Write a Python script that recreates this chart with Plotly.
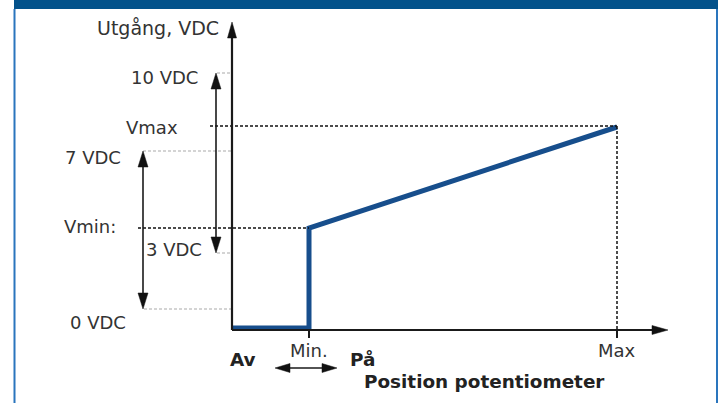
import plotly.graph_objects as go

# ---------------- data ----------------
x_tick_labels = ["Min.", "Max"]
x_tick_pos = [1, 5]                      # potentiometer positions
y_tick_labels = ["0 VDC", "3 VDC", "7 VDC", "10 VDC"]
y_tick_levels = [2.1, 7.7, 17.9, 25.7]   # schematic output levels
vmin_level = 10.2
vmax_level = 20.4
curve_x = [0, 1, 1, 5]
curve_y = [0.2, 0.2, 10.2, 20.3]
off_label, on_label = "Av", "På"
x_title = "Position potentiometer"
y_title = "Utgång, VDC"

# ---------------- geometry helpers ----------------
W, H = 724, 403
X0, Y0 = 232, 330      # pixel of origin
SX, SY = 77.0, 10.0    # pixels per unit


def X(p):
    return (p - X0) / SX


def Y(p):
    return (Y0 - p) / SY


def PX(x):
    return X0 + SX * x


def PY(y):
    return Y0 - SY * y


FONT = "DejaVu Sans"
TXT = "#333333"
BLUE = "#174e8c"

shapes = []
annotations = []


def line(x0, y0, x1, y1, color="#1a1a1a", width=2, dash=None):
    d = dict(type="line", xref="x", yref="y", x0=x0, y0=y0, x1=x1, y1=y1,
             line=dict(color=color, width=width))
    if dash:
        d["line"]["dash"] = dash
    shapes.append(d)


def head(tipx, tipy, dirx, diry, length=15, width=9, color="#111111"):
    tx, ty = PX(tipx), PY(tipy)
    bx, by = tx - dirx * length, ty - diry * length
    nx, ny = -diry, dirx
    pts = [(tx, ty), (bx + nx * width / 2, by + ny * width / 2),
           (bx - nx * width / 2, by - ny * width / 2)]
    path = "M " + " L ".join(f"{X(a):.4f},{Y(b):.4f}" for a, b in pts) + " Z"
    shapes.append(dict(type="path", xref="x", yref="y", path=path,
                       fillcolor=color, line=dict(color=color, width=0.5)))


def text(x, y, s, xanchor="center", bold=False, size=18, color=TXT):
    annotations.append(dict(x=x, y=y, xref="x", yref="y", text=(f"<b>{s}</b>" if bold else s),
                            showarrow=False, xanchor=xanchor, yanchor="middle",
                            font=dict(family=FONT, size=size, color=color)))


# frame
shapes.append(dict(type="rect", xref="paper", yref="paper", x0=14 / W, x1=718 / W,
                   y0=1 - 9 / H, y1=1.02, fillcolor="#03528b", line=dict(width=0)))
for xp in (14.5, 717):
    shapes.append(dict(type="line", xref="paper", yref="paper", x0=xp / W, x1=xp / W,
                       y0=-0.01, y1=1 - 9 / H, line=dict(color="#2a75bd", width=2)))

# grey guide lines to the y axis
guide_start = {"0 VDC": X(144), "3 VDC": X(217), "7 VDC": X(143), "10 VDC": X(217)}
for lab, lev in zip(y_tick_labels, y_tick_levels):
    line(guide_start[lab], lev, 0, lev, color="#aaaaaa", width=1.2, dash="3px,2px")

# black dashed Vmin / Vmax helpers
line(X(210), vmax_level, x_tick_pos[1], vmax_level, color="#111111", width=1.5, dash="3px,2px")
line(x_tick_pos[1], vmax_level, x_tick_pos[1], 0, color="#111111", width=1.5, dash="3px,2px")
line(X(138), vmin_level, x_tick_pos[0], vmin_level, color="#111111", width=1.5, dash="3px,2px")

# axes
y_tip = Y(22)
x_tip = X(668)
line(0, 0, 0, y_tip - 1.2, width=2.2)
head(0, y_tip, 0, -1, length=16, width=9)
line(0, 0, x_tip - 14 / SX, 0, width=2.2)
head(x_tip, 0, 1, 0, length=16, width=9)
for xt in x_tick_pos:
    line(xt, 0, xt, Y(338), width=2)

# double arrows for ranges (10 VDC <-> 3 VDC, 7 VDC <-> 0 VDC)
for xpix, top, bot in ((216, y_tick_levels[3], y_tick_levels[1]),
                       (143, y_tick_levels[2], y_tick_levels[0])):
    xa = X(xpix)
    line(xa, top - 1.2, xa, bot + 1.2, width=1.6)
    head(xa, top, 0, -1, length=16, width=10)
    head(xa, bot, 0, 1, length=16, width=10)

# horizontal double arrow under Min.
ya = Y(368)
line(X(284), ya, X(328), ya, width=1.6)
head(X(275), ya, -1, 0, length=15, width=9)
head(X(337), ya, 1, 0, length=15, width=9)

# labels
text(X(221), Y(28), y_title, xanchor="right", size=19)
text(X(200), Y(77), y_tick_labels[3], xanchor="right")
text(X(180), Y(127), "Vmax", xanchor="right")
text(X(123), Y(157), y_tick_labels[2], xanchor="right")
text(X(118), Y(226), "Vmin:", xanchor="right")
text(X(204), Y(249), y_tick_labels[1], xanchor="right")
text(X(128), Y(322), y_tick_labels[0], xanchor="right")
for lab, xp in zip(x_tick_labels, x_tick_pos):
    text(xp, Y(350), lab)
text(X(243), Y(359), off_label, bold=True, size=18.4, color="#222222")
text(X(348), Y(359), on_label, xanchor="left", bold=True, size=18.4, color="#222222")
text(X(362), Y(381), x_title, xanchor="left", bold=True, size=18.4, color="#222222")

fig = go.Figure()
fig.add_trace(go.Scatter(x=curve_x, y=curve_y, mode="lines",
                         line=dict(color=BLUE, width=5), hoverinfo="skip",
                         showlegend=False))

fig.update_layout(
    width=W, height=H, autosize=False,
    margin=dict(l=0, r=0, t=0, b=0),
    paper_bgcolor="white", plot_bgcolor="white",
    xaxis=dict(range=[X(0), X(W)], visible=False, fixedrange=True),
    yaxis=dict(range=[Y(H), Y(0)], visible=False, fixedrange=True),
    shapes=shapes, annotations=annotations, showlegend=False,
)

fig.write_html("out.html", config={"displayModeBar": False},
               post_script="document.body.style.margin='0';")
